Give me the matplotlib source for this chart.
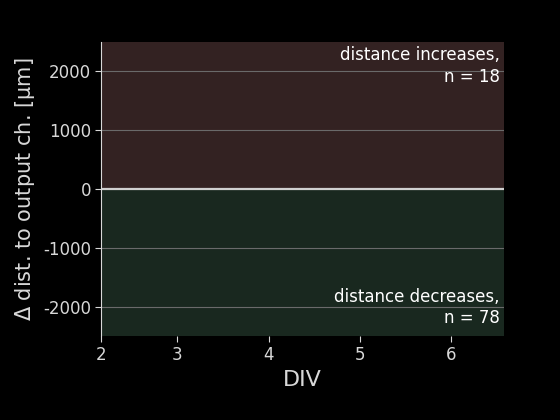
import numpy as np
import matplotlib
matplotlib.use('Agg')
import matplotlib.pyplot as plt

plt.rcParams['font.family'] = ['DejaVu Sans']
plt.rcParams['mathtext.fontset'] = 'dejavusans'

# data
div_ticks = [2.165, 3, 4, 5, 6]
div_labels = ['2', '3', '4', '5', '6']
x_limits = [2.165, 6.585]
y_limits = [-2500, 2500]
y_ticks = [-2000, -1000, 0, 1000, 2000]
n_increase = 18
n_decrease = 78

fg = '#d8d8d8'

fig = plt.figure(figsize=(5.6, 4.2), dpi=100, facecolor='black')
ax = fig.add_subplot(111, facecolor='black')
fig.subplots_adjust(left=0.181, right=0.9, bottom=0.2, top=0.9)

ax.axhspan(0, y_limits[1], color='#332222', zorder=0)
ax.axhspan(y_limits[0], 0, color='#19281f', zorder=0)
for y in y_ticks:
    if y != 0:
        ax.axhline(y, color='#6a6a6a', lw=0.8, zorder=1)
ax.axhline(0, color='#d0d0d0', lw=1.6, zorder=2)

ax.set_xlim(x_limits)
ax.set_ylim(y_limits)
ax.set_xticks(div_ticks)
ax.set_xticklabels(div_labels)
ax.set_yticks(y_ticks)
ax.set_yticklabels([str(v) for v in y_ticks])

ax.spines['top'].set_visible(False)
ax.spines['right'].set_visible(False)
ax.spines['bottom'].set_visible(False)
ax.spines['left'].set_color(fg)
ax.tick_params(colors=fg, labelsize=12, length=4)

ax.set_xlabel('DIV', color=fg, fontsize=16)
ax.set_ylabel(r'$\Delta$ dist. to output ch. [μm]', color=fg, fontsize=15)

ax.text(0.99, 0.985, 'distance increases,\nn = %d' % n_increase, transform=ax.transAxes,
        ha='right', va='top', color='white', fontsize=12, linespacing=1.25)
ax.text(0.99, 0.03, 'distance decreases,\nn = %d' % n_decrease, transform=ax.transAxes,
        ha='right', va='bottom', color='white', fontsize=12, linespacing=1.25)

fig.savefig('out.png', dpi=100, facecolor='black')
